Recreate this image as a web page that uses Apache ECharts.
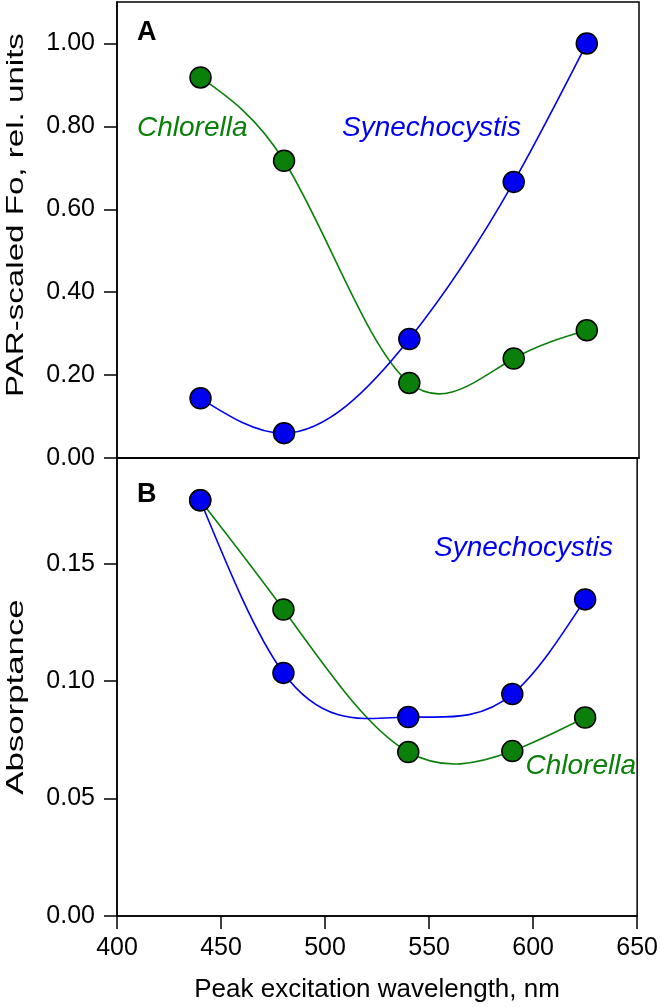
<!DOCTYPE html>
<html>
<head>
<meta charset="utf-8">
<script src="https://cdn.jsdelivr.net/npm/echarts@6/dist/echarts.min.js"></script>
<style>
html,body{margin:0;padding:0;background:#fff;}
#chart{width:661px;height:1007px;}
</style>
</head>
<body>
<div id="chart"></div>
<script>
const wavelengths = [440, 480, 540, 590, 625];
const chlorellaFo = [0.918, 0.717, 0.181, 0.240, 0.308];
const synechoFo = [0.144, 0.060, 0.287, 0.666, 1.000];
const chlorellaAbs = [0.177, 0.1305, 0.0698, 0.0702, 0.0845];
const synechoAbs = [0.177, 0.1035, 0.0847, 0.0945, 0.1348];
const foTicks = [0, 0.2, 0.4, 0.6, 0.8, 1.0];
const absTicks = [0, 0.05, 0.10, 0.15];
const xTicks = [400, 450, 500, 550, 600, 650];

const GREEN = '#0a800a';
const BLUE = '#0000f0';
const FONT = '"Liberation Sans", Arial, sans-serif';

function pairs(xs, ys) { return xs.map((x, i) => [x, ys[i]]); }

// natural cubic spline second derivatives (rendering of the connecting curve only)
function splineM(xs, ys) {
  const n = xs.length, M = new Array(n).fill(0);
  if (n < 3) return M;
  const a = [], b = [], c = [], d = [];
  for (let i = 1; i < n - 1; i++) {
    const h0 = xs[i] - xs[i - 1], h1 = xs[i + 1] - xs[i];
    a.push(h0); b.push(2 * (h0 + h1)); c.push(h1);
    d.push(6 * ((ys[i + 1] - ys[i]) / h1 - (ys[i] - ys[i - 1]) / h0));
  }
  const m = b.length;
  for (let i = 1; i < m; i++) {
    const w = a[i] / b[i - 1];
    b[i] -= w * c[i - 1]; d[i] -= w * d[i - 1];
  }
  const sol = new Array(m);
  sol[m - 1] = d[m - 1] / b[m - 1];
  for (let i = m - 2; i >= 0; i--) sol[i] = (d[i] - c[i] * sol[i + 1]) / b[i];
  for (let i = 0; i < m; i++) M[i + 1] = sol[i];
  return M;
}

function curveSeries(name, data, color, xi) {
  return {
    name: name, type: 'custom', xAxisIndex: xi, yAxisIndex: xi, data: data,
    encode: { x: 0, y: 1 }, clip: true, z: 2, silent: true,
    renderItem: function (params, api) {
      const i = params.dataIndexInside, n = params.dataInsideLength;
      if (i >= n - 1) return null;
      const xs = [], ys = [];
      for (let j = 0; j < n; j++) { xs.push(api.value(0, j)); ys.push(api.value(1, j)); }
      const M = splineM(xs, ys);
      const h = xs[i + 1] - xs[i], s = (ys[i + 1] - ys[i]) / h;
      const m0 = s - h * (2 * M[i] + M[i + 1]) / 6;
      const m1 = s + h * (M[i] + 2 * M[i + 1]) / 6;
      const p0 = api.coord([xs[i], ys[i]]);
      const p1 = api.coord([xs[i] + h / 3, ys[i] + m0 * h / 3]);
      const p2 = api.coord([xs[i + 1] - h / 3, ys[i + 1] - m1 * h / 3]);
      const p3 = api.coord([xs[i + 1], ys[i + 1]]);
      return {
        type: 'bezierCurve',
        shape: { x1: p0[0], y1: p0[1], cpx1: p1[0], cpy1: p1[1], cpx2: p2[0], cpy2: p2[1], x2: p3[0], y2: p3[1] },
        style: { stroke: color, lineWidth: 1.6, fill: null }
      };
    }
  };
}

function markerSeries(name, data, color, xi) {
  return {
    name: name, type: 'scatter', xAxisIndex: xi, yAxisIndex: xi, data: data,
    symbol: 'circle', symbolSize: 21, z: 4,
    itemStyle: { color: color, borderColor: '#000', borderWidth: 1.5, opacity: 1 },
    emphasis: { disabled: true }
  };
}

const chart = echarts.init(document.getElementById('chart'), null, { renderer: 'canvas' });
const axisLine = { show: true, lineStyle: { color: '#000', width: 1.5 } };
const tickStyle = { lineStyle: { color: '#000', width: 1.5 } };
const labelStyle = { color: '#000', fontSize: 25, fontFamily: FONT };

chart.setOption({
  backgroundColor: '#fff',
  animation: false,
  grid: [
    { left: 117, right: 22, top: 2, height: 456, show: true, borderColor: '#000', borderWidth: 1.5 },
    { left: 117, right: 22, top: 458, height: 458, show: true, borderColor: '#000', borderWidth: 1.5 }
  ],
  xAxis: [
    { gridIndex: 0, type: 'value', min: 400, max: 650, interval: 50,
      axisLine: axisLine, axisTick: { show: false }, axisLabel: { show: false }, splitLine: { show: false } },
    { gridIndex: 1, type: 'value', min: 400, max: 650, interval: 50,
      axisLine: axisLine,
      axisTick: Object.assign({ show: true, inside: false, length: 13, customValues: xTicks }, tickStyle),
      axisLabel: Object.assign({ margin: 20, customValues: xTicks }, labelStyle),
      splitLine: { show: false },
      name: 'Peak excitation wavelength, nm', nameLocation: 'middle', nameGap: 61,
      nameTextStyle: { color: '#000', fontSize: 26, fontFamily: FONT } }
  ],
  yAxis: [
    { gridIndex: 0, type: 'value', min: 0, max: 1.1,
      axisLine: axisLine,
      axisTick: Object.assign({ show: true, inside: false, length: 13, customValues: foTicks }, tickStyle),
      axisLabel: Object.assign({ margin: 22, customValues: foTicks, formatter: v => v.toFixed(2) }, labelStyle),
      splitLine: { show: false } },
    { gridIndex: 1, type: 'value', min: 0, max: 0.195,
      axisLine: axisLine,
      axisTick: Object.assign({ show: true, inside: false, length: 13, customValues: absTicks }, tickStyle),
      axisLabel: Object.assign({ margin: 22, customValues: absTicks, formatter: v => v.toFixed(2) }, labelStyle),
      splitLine: { show: false } }
  ],
  series: [
    curveSeries('Chlorella Fo curve', pairs(wavelengths, chlorellaFo), GREEN, 0),
    curveSeries('Synechocystis Fo curve', pairs(wavelengths, synechoFo), BLUE, 0),
    curveSeries('Chlorella absorptance curve', pairs(wavelengths, chlorellaAbs), GREEN, 1),
    curveSeries('Synechocystis absorptance curve', pairs(wavelengths, synechoAbs), BLUE, 1),
    markerSeries('Chlorella Fo', pairs(wavelengths, chlorellaFo), GREEN, 0),
    markerSeries('Synechocystis Fo', pairs(wavelengths, synechoFo), BLUE, 0),
    markerSeries('Chlorella absorptance', pairs(wavelengths, chlorellaAbs), GREEN, 1),
    markerSeries('Synechocystis absorptance', pairs(wavelengths, synechoAbs), BLUE, 1)
  ],
  graphic: [
    { type: 'text', x: 16, y: 215, rotation: Math.PI / 2, scaleX: 1.38,
      style: { text: 'PAR-scaled Fo, rel. units', fill: '#000', font: '24px ' + FONT, textAlign: 'center', textVerticalAlign: 'middle' } },
    { type: 'text', x: 16, y: 697, rotation: Math.PI / 2, scaleX: 1.45,
      style: { text: 'Absorptance', fill: '#000', font: '24px ' + FONT, textAlign: 'center', textVerticalAlign: 'middle' } },
    { type: 'text', left: 137, top: 19, style: { text: 'A', fill: '#000', font: 'bold 27px ' + FONT } },
    { type: 'text', left: 137, top: 481, style: { text: 'B', fill: '#000', font: 'bold 27px ' + FONT } },
    { type: 'text', x: 137, y: 128, style: { text: 'Chlorella', fill: GREEN, font: 'italic 28px ' + FONT, textAlign: 'left', textVerticalAlign: 'middle' } },
    { type: 'text', x: 342, y: 128, style: { text: 'Synechocystis', fill: BLUE, font: 'italic 28px ' + FONT, textAlign: 'left', textVerticalAlign: 'middle' } },
    { type: 'text', x: 613, y: 548, style: { text: 'Synechocystis', fill: BLUE, font: 'italic 28px ' + FONT, textAlign: 'right', textVerticalAlign: 'middle' } },
    { type: 'text', x: 636, y: 766, style: { text: 'Chlorella', fill: GREEN, font: 'italic 28px ' + FONT, textAlign: 'right', textVerticalAlign: 'middle' } }
  ]
});
</script>
</body>
</html>
